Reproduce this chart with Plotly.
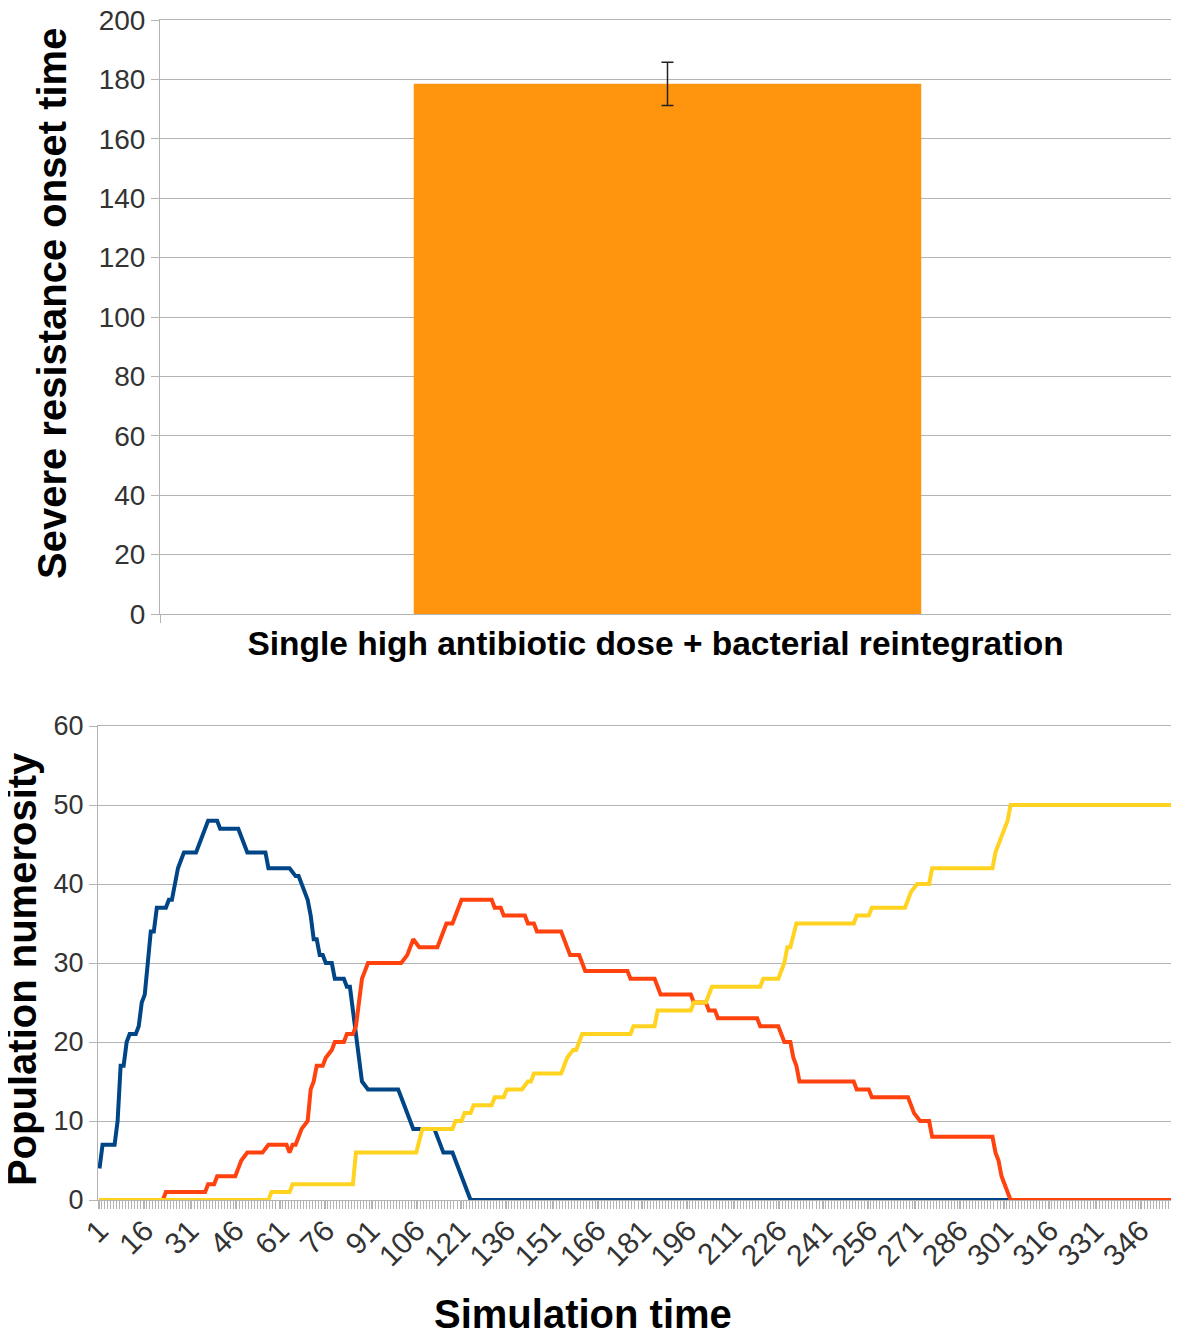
import plotly.graph_objs as go

# Top panel: onset time of severe resistance (mean +/- error)
scenario = ['Single high antibiotic dose + bacterial reintegration']
onset_mean = [178.5]
onset_err = [7.3]

# Bottom panel: population curves (vertices of each drawn line: time step, count)
blue_t = [1, 2, 6, 7, 8, 9, 10, 11, 13, 14, 15, 16, 17, 18, 19, 20, 23, 24, 25, 26, 27, 28, 29, 33, 34, 35, 36,
          37, 40, 41, 47, 48, 49, 50, 56, 57, 64, 66, 67, 68, 69, 70, 71, 72, 73, 74, 75, 76, 78, 79, 82, 83, 84,
          85, 86, 87, 88, 90, 100, 101, 102, 104, 105, 112, 113, 114, 115, 118, 119, 120, 121, 122, 123, 124, 357]
blue_n = [4, 7, 7, 10, 17, 17, 20, 21, 21, 22, 25, 26, 30, 34, 34, 37, 37, 38, 38, 40, 42, 43, 44, 44, 45, 46, 47,
          48, 48, 47, 47, 46, 45, 44, 44, 42, 42, 41, 41, 40, 39, 38, 36, 33, 33, 31, 31, 30, 30, 28, 28, 27, 27,
          24, 21, 18, 15, 14, 14, 13, 12, 10, 9, 9, 8, 7, 6, 6, 5, 4, 3, 2, 1, 0, 0]

red_t = [1, 22, 23, 36, 37, 39, 40, 46, 47, 48, 50, 55, 57, 63, 64, 65, 66, 67, 68, 70, 71, 72, 73, 75, 76, 78,
         79, 82, 83, 85, 86, 87, 88, 89, 90, 101, 103, 105, 107, 113, 114, 115, 116, 118, 119, 120, 121, 131, 132,
         134, 135, 142, 143, 145, 146, 154, 155, 156, 157, 160, 161, 162, 176, 177, 185, 186, 187, 197, 198, 202,
         203, 205, 206, 219, 220, 226, 227, 228, 230, 231, 232, 233, 251, 252, 256, 257, 269, 270, 271, 273, 276,
         277, 297, 298, 299, 300, 301, 302, 303, 357]
red_n = [0, 0, 1, 1, 2, 2, 3, 3, 4, 5, 6, 6, 7, 7, 6, 7, 7, 8, 9, 10, 14, 15, 17, 17, 18, 19,
         20, 20, 21, 21, 22, 25, 28, 29, 30, 30, 31, 33, 32, 32, 33, 34, 35, 35, 36, 37, 38, 38, 37,
         37, 36, 36, 35, 35, 34, 34, 33, 32, 31, 31, 30, 29, 29, 28, 28, 27, 26, 26, 25, 25,
         24, 24, 23, 23, 22, 22, 21, 20, 20, 18, 17, 15, 15, 14, 14, 13, 13, 12, 11, 10, 10,
         8, 8, 6, 5, 3, 2, 1, 0, 0]

yellow_t = [1, 57, 58, 64, 65, 85, 86, 106, 108, 118, 119, 121, 122, 124, 125, 131, 132, 135, 136, 141, 143, 144,
            145, 154, 155, 156, 158, 159, 160, 161, 177, 178, 185, 186, 197, 198, 202, 203, 204, 220, 221, 226,
            227, 228, 229, 230, 232, 251, 252, 256, 257, 268, 269, 270, 272, 276, 277, 297, 298, 299, 300, 301,
            302, 303, 357]
yellow_n = [0, 0, 1, 1, 2, 2, 6, 6, 9, 9, 10, 10, 11, 11, 12, 12, 13, 13, 14, 14, 15, 15,
            16, 16, 17, 18, 19, 19, 20, 21, 21, 22, 22, 24, 24, 25, 25, 26, 27, 27, 28, 28,
            29, 30, 32, 32, 35, 35, 36, 36, 37, 37, 38, 39, 40, 40, 42, 42, 44, 45, 46, 47,
            48, 50, 50]

time_ticks = [1, 16, 31, 46, 61, 76, 91, 106, 121, 136, 151, 166, 181, 196, 211, 226, 241, 256, 271, 286,
              301, 316, 331, 346]
n_steps = 357

# page has an 8px body margin, so the figure is drawn 8px smaller and positions are shifted by it
OFF = 8
W, H = 1179 - OFF, 1335 - OFF
GRID = '#b3b3b3'
SANS = 'Liberation Sans, Arial, sans-serif'
NARROW = 'Liberation Sans Narrow, Arial Narrow, Liberation Sans, sans-serif'


def px(x):
    return (x - OFF) / W


def py(y):
    return 1 - (y - OFF) / H


bar = go.Bar(
    x=scenario, y=onset_mean,
    marker=dict(color='#ff950e', line=dict(width=0)),
    error_y=dict(type='data', array=onset_err, color='#222222', thickness=1.5, width=6),
    xaxis='x', yaxis='y',
)

lines = []
for t, n, col in [(blue_t, blue_n, '#004586'), (red_t, red_n, '#ff420e'), (yellow_t, yellow_n, '#ffd320')]:
    lines.append(go.Scatter(x=t, y=n, mode='lines', line=dict(color=col, width=4),
                            xaxis='x2', yaxis='y2'))

title_font = dict(family=SANS, size=40, color='black', weight='bold')

layout = go.Layout(
    width=W, height=H,
    margin=dict(l=0, r=0, t=0, b=0),
    paper_bgcolor='white', plot_bgcolor='white',
    showlegend=False,
    bargap=0.5,
    xaxis=dict(domain=[px(160), px(1175)], anchor='y', type='category', tickson='boundaries', automargin=False,
               ticks='outside', ticklen=8, tickcolor=GRID, showline=True, linecolor=GRID, mirror=True,
               ticklabelshift=-12,
               tickfont=dict(family=SANS, size=33.5, color='black', weight='bold')),
    yaxis=dict(domain=[py(614), py(20)], anchor='x', range=[0, 200], dtick=20, automargin=False,
               ticks='outside', ticklen=8, tickcolor=GRID, showline=True, linecolor=GRID, mirror=True,
               gridcolor=GRID, gridwidth=1, zeroline=False, ticklabeloverflow='allow',
               tickfont=dict(family=SANS, size=28, color='#333333')),
    xaxis2=dict(domain=[px(98), px(1175)], anchor='y2', range=[0.5, n_steps + 0.5], automargin=False,
                tickvals=time_ticks, tickangle=-45, ticks='outside', ticklen=8, tickcolor=GRID,
                ticklabelstandoff=-8, ticklabeloverflow='allow',
                minor=dict(dtick=1, tick0=0.5, ticks='outside', ticklen=8, tickcolor=GRID, showgrid=False),
                showgrid=False, showline=True, linecolor=GRID, mirror=True,
                tickfont=dict(family=NARROW, size=30, color='#333333')),
    yaxis2=dict(domain=[py(1200), py(726)], anchor='x2', range=[0, 60], dtick=10, automargin=False,
                ticks='outside', ticklen=8, tickcolor=GRID, showline=True, linecolor=GRID, mirror=True,
                gridcolor=GRID, gridwidth=1, zeroline=False, ticklabeloverflow='allow',
                tickfont=dict(family=NARROW, size=27, color='#333333')),
    annotations=[
        dict(text='Severe resistance onset time', x=px(52), y=py(304), xref='paper', yref='paper',
             xanchor='center', yanchor='middle', textangle=-90, showarrow=False, font=title_font),
        dict(text='Population numerosity', x=px(22), y=py(969), xref='paper', yref='paper',
             xanchor='center', yanchor='middle', textangle=-90, showarrow=False, font=title_font),
        dict(text='Simulation time', x=px(583), y=py(1314), xref='paper', yref='paper',
             xanchor='center', yanchor='middle', showarrow=False, font=title_font),
    ],
)

fig = go.Figure(data=[bar] + lines, layout=layout)
fig.write_html('out.html')
